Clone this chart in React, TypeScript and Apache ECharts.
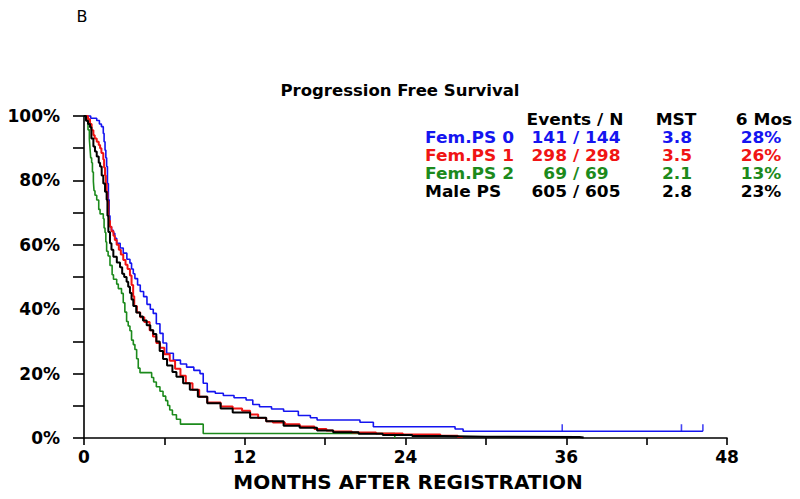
import React, { useEffect, useRef } from "react";
import * as echarts from "echarts";

// Kaplan–Meier curves: [months, % progression free]
const femPS0: [number, number][] = [
  [0, 100], [0.5, 99.3], [0.95, 98.6], [1.15, 97.5], [1.3, 96.7], [1.44, 94.6], [1.5, 92], [1.57, 89.4],
  [1.63, 87], [1.69, 84.3], [1.75, 79], [1.82, 74], [1.88, 69], [1.94, 65.6], [2.05, 64.5], [2.19, 63.6],
  [2.3, 62], [2.44, 60.5], [2.7, 59], [2.93, 57.4], [3.2, 55.5], [3.43, 54.3], [3.55, 52.5], [3.68, 51],
  [3.8, 49.5], [4.0, 47.5], [4.2, 45.5], [4.45, 43.9], [4.7, 41.5], [4.95, 40], [5.17, 38.7], [5.4, 35.5],
  [5.67, 32.5], [5.9, 29.5], [6.17, 26.3], [6.67, 24.2], [7.2, 23], [7.66, 22], [8.2, 21], [8.66, 20],
  [8.9, 17], [9.2, 14.4], [9.8, 13.9], [10.4, 13.2], [11.2, 12.5], [12.1, 11.8], [12.6, 10.4], [13.1, 9.7],
  [14.0, 9.0], [14.9, 8.3], [16.0, 7.0], [16.9, 6.3], [17.4, 5.6], [20.6, 4.9], [21.6, 3.5], [27.7, 2.8],
  [28.3, 2.1], [46.2, 2.1],
];
const femPS1: [number, number][] = [
  [0, 100], [0.3, 99], [0.45, 97.5], [0.57, 95.6], [0.7, 94], [0.8, 93], [0.95, 92], [1.1, 91], [1.2, 90],
  [1.3, 88.5], [1.44, 86.5], [1.5, 84], [1.57, 81.5], [1.63, 79], [1.69, 76.5], [1.75, 73.5], [1.82, 69.5],
  [1.87, 67.5], [1.94, 65.6], [2.05, 64.2], [2.2, 62.8], [2.3, 61.5], [2.44, 60], [2.6, 58.5], [2.75, 57],
  [2.93, 55.3], [3.1, 53.8], [3.25, 52.5], [3.43, 50.5], [3.55, 47.5], [3.67, 44], [3.75, 41], [3.95, 39],
  [4.2, 37.5], [4.5, 36], [4.9, 33.5], [5.15, 31.5], [5.4, 29.5], [5.67, 28], [6.0, 26], [6.4, 24],
  [6.8, 21.5], [7.2, 19.3], [7.6, 17], [8.1, 15], [8.6, 12.8], [9.2, 11], [10.2, 9.8], [11.1, 9.2],
  [11.8, 8.5], [12.4, 7.3], [13.0, 6.2], [13.6, 5.2], [14.1, 4.8], [15.0, 4.3], [16.1, 3.6], [17.2, 2.8],
  [18.1, 2.3], [18.6, 2.0], [20.0, 1.7], [21.8, 1.4], [23.8, 1.1], [26.6, 0.7], [27.9, 0.3], [28.2, 0],
];
const femPS2: [number, number][] = [
  [0, 100], [0.2, 98.6], [0.3, 95.7], [0.4, 92.8], [0.45, 89.9], [0.5, 87], [0.57, 85.5], [0.63, 82.6],
  [0.7, 79.7], [0.75, 76.8], [0.82, 75.4], [0.95, 73.9], [1.1, 71], [1.2, 69.6], [1.44, 68.1], [1.5, 65.2],
  [1.57, 63.8], [1.63, 60.9], [1.69, 58], [1.8, 56.5], [1.94, 53.6], [2.1, 50.7], [2.2, 49.3], [2.44, 47.8],
  [2.56, 46.4], [2.8, 44.9], [2.93, 42], [3.05, 39.1], [3.18, 36.2], [3.3, 34.8], [3.43, 33.3], [3.55, 30.4],
  [3.68, 29], [3.8, 27.5], [3.93, 24.6], [4.05, 21.7], [4.18, 20.3], [5.05, 18.8], [5.2, 17.4], [5.4, 15.9],
  [5.67, 14.5], [5.9, 13], [6.1, 11.6], [6.25, 10.1], [6.4, 8.7], [6.6, 7.2], [6.9, 5.8], [7.2, 4.3],
  [8.9, 1.4], [23.2, 0],
];
const malePS: [number, number][] = [
  [0, 100], [0.15, 98.5], [0.3, 97.5], [0.45, 96.5], [0.55, 93], [0.7, 90.5], [0.82, 89], [0.95, 87.4],
  [1.1, 85.5], [1.2, 84.3], [1.32, 81.5], [1.44, 79], [1.57, 76.5], [1.69, 74], [1.75, 69], [1.82, 64],
  [1.94, 60.5], [2.05, 58.5], [2.19, 56.3], [2.45, 54.5], [2.69, 53], [2.85, 51], [3.0, 50], [3.18, 48.5],
  [3.3, 47], [3.43, 45], [3.55, 43], [3.68, 41], [3.9, 39], [4.18, 37.7], [4.4, 36.5], [4.68, 35],
  [4.95, 33.5], [5.17, 32.3], [5.4, 30], [5.65, 27], [5.9, 24.5], [6.2, 22.5], [6.6, 20.5], [6.9, 19],
  [7.4, 17], [7.9, 15], [8.5, 12.8], [9.2, 10.8], [10.2, 9.2], [11.1, 7.9], [12.4, 6.3], [13.6, 5.2],
  [14.9, 3.8], [16.1, 3.2], [17.4, 2.3], [18.6, 1.8], [20.5, 1.3], [22.3, 0.9], [24.5, 0.6], [26.8, 0.4],
  [30, 0.3], [37, 0.17], [37.3, 0],
];
const femPS0Censored: [number, number][] = [[35.7, 2.1], [44.6, 2.1], [46.2, 2.1]];

// Summary table
const groupNames = ["Fem.PS 0", "Fem.PS 1", "Fem.PS 2", "Male PS"];
const eventsN = ["141 / 144", "298 / 298", "69 / 69", "605 / 605"];
const mst = ["3.8", "3.5", "2.1", "2.8"];
const sixMos = ["28%", "26%", "13%", "23%"];
const groupColors = ["#1414f0", "#f01414", "#1c8a1c", "#000000"];
const tableHeaders = ["Events / N", "MST", "6 Mos"];

const chartTitle = "Progression Free Survival";
const xAxisTitle = "MONTHS AFTER REGISTRATION";
const panelLabel = "B";

export default function App() {
  const ref = useRef<HTMLDivElement>(null);
  useEffect(() => {
    if (!ref.current) return;
    const chart = echarts.init(ref.current, null, { renderer: "svg" });
    const fam = "DejaVu Sans";
    const txt = (
      text: string,
      x: number,
      y: number,
      color: string,
      size: number,
      align: string,
      weight = "bold",
      sy = 1
    ) => ({
      type: "text",
      x,
      y,
      scaleY: sy,
      style: {
        text,
        fill: color,
        font: `${weight} ${size}px "${fam}"`,
        fontSize: size,
        fontWeight: weight,
        fontFamily: fam,
        textAlign: align,
        textVerticalAlign: "middle",
      },
    });
    const sy = 0.88;
    const graphics: any[] = [
      txt(panelLabel, 82, 16, "#000", 16, "center", "normal"),
      txt(chartTitle, 400, 90, "#000", 16.5, "center"),
      txt(xAxisTitle, 408, 482, "#000", 20, "center"),
      txt(tableHeaders[0], 575, 119.5, "#000", 17, "center", "bold", sy),
      txt(tableHeaders[1], 676, 119.5, "#000", 17, "center", "bold", sy),
      txt(tableHeaders[2], 764, 119.5, "#000", 17, "center", "bold", sy),
    ];
    const rowY = [137.5, 155.5, 173.5, 191.5];
    groupNames.forEach((n, i) => {
      const c = groupColors[i];
      graphics.push(txt(n, 425, rowY[i], c, 17, "left", "bold", sy));
      graphics.push(txt(eventsN[i], 576, rowY[i], c, 17, "center", "bold", sy));
      graphics.push(txt(mst[i], 677, rowY[i], c, 17, "center", "bold", sy));
      graphics.push(txt(sixMos[i], 761, rowY[i], c, 17, "center", "bold", sy));
    });

    const lineSeries = (name: string, data: [number, number][], color: string, width: number) => ({
      name,
      type: "line",
      step: "end",
      data,
      showSymbol: false,
      symbol: "none",
      lineStyle: { color, width },
      clip: false,
    });

    chart.setOption({
      animation: false,
      backgroundColor: "#ffffff",
      grid: { left: 84, right: 73, top: 116, bottom: 61, containLabel: false },
      xAxis: {
        type: "value",
        min: 0,
        max: 48,
        interval: 6,
        splitLine: { show: false },
        axisLine: { onZero: false, lineStyle: { color: "#000", width: 1.6 } },
        axisTick: { length: 7, lineStyle: { color: "#000", width: 1.6 } },
        axisLabel: {
          margin: 10,
          color: "#000",
          fontFamily: fam,
          fontWeight: "bold",
          fontSize: 17,
          formatter: (v: number) => (v % 12 === 0 ? String(v) : ""),
        },
      },
      yAxis: {
        type: "value",
        min: 0,
        max: 100,
        interval: 10,
        splitLine: { show: false },
        axisLine: { lineStyle: { color: "#000", width: 1.6 } },
        axisTick: { length: 11, lineStyle: { color: "#000", width: 1.6 } },
        axisLabel: {
          margin: 24,
          color: "#000",
          fontFamily: fam,
          fontWeight: "bold",
          fontSize: 17,
          formatter: (v: number) => (v % 20 === 0 ? v + "%" : ""),
        },
      },
      series: [
        lineSeries("Fem.PS 2", femPS2, groupColors[2], 1.6),
        lineSeries("Fem.PS 0", femPS0, groupColors[0], 1.6),
        lineSeries("Fem.PS 1", femPS1, groupColors[1], 2),
        lineSeries("Male PS", malePS, groupColors[3], 2),
        {
          name: "Fem.PS 0 censored",
          type: "scatter",
          data: femPS0Censored,
          symbol: "rect",
          symbolSize: [1.6, 7],
          symbolOffset: [0, -3.5],
          itemStyle: { color: groupColors[0] },
        },
      ],
      graphic: graphics,
    });
    return () => chart.dispose();
  }, []);
  return (
    <div
      ref={ref}
      style={{ position: "fixed", left: 0, top: 0, width: 800, height: 499, background: "#fff" }}
    />
  );
}
